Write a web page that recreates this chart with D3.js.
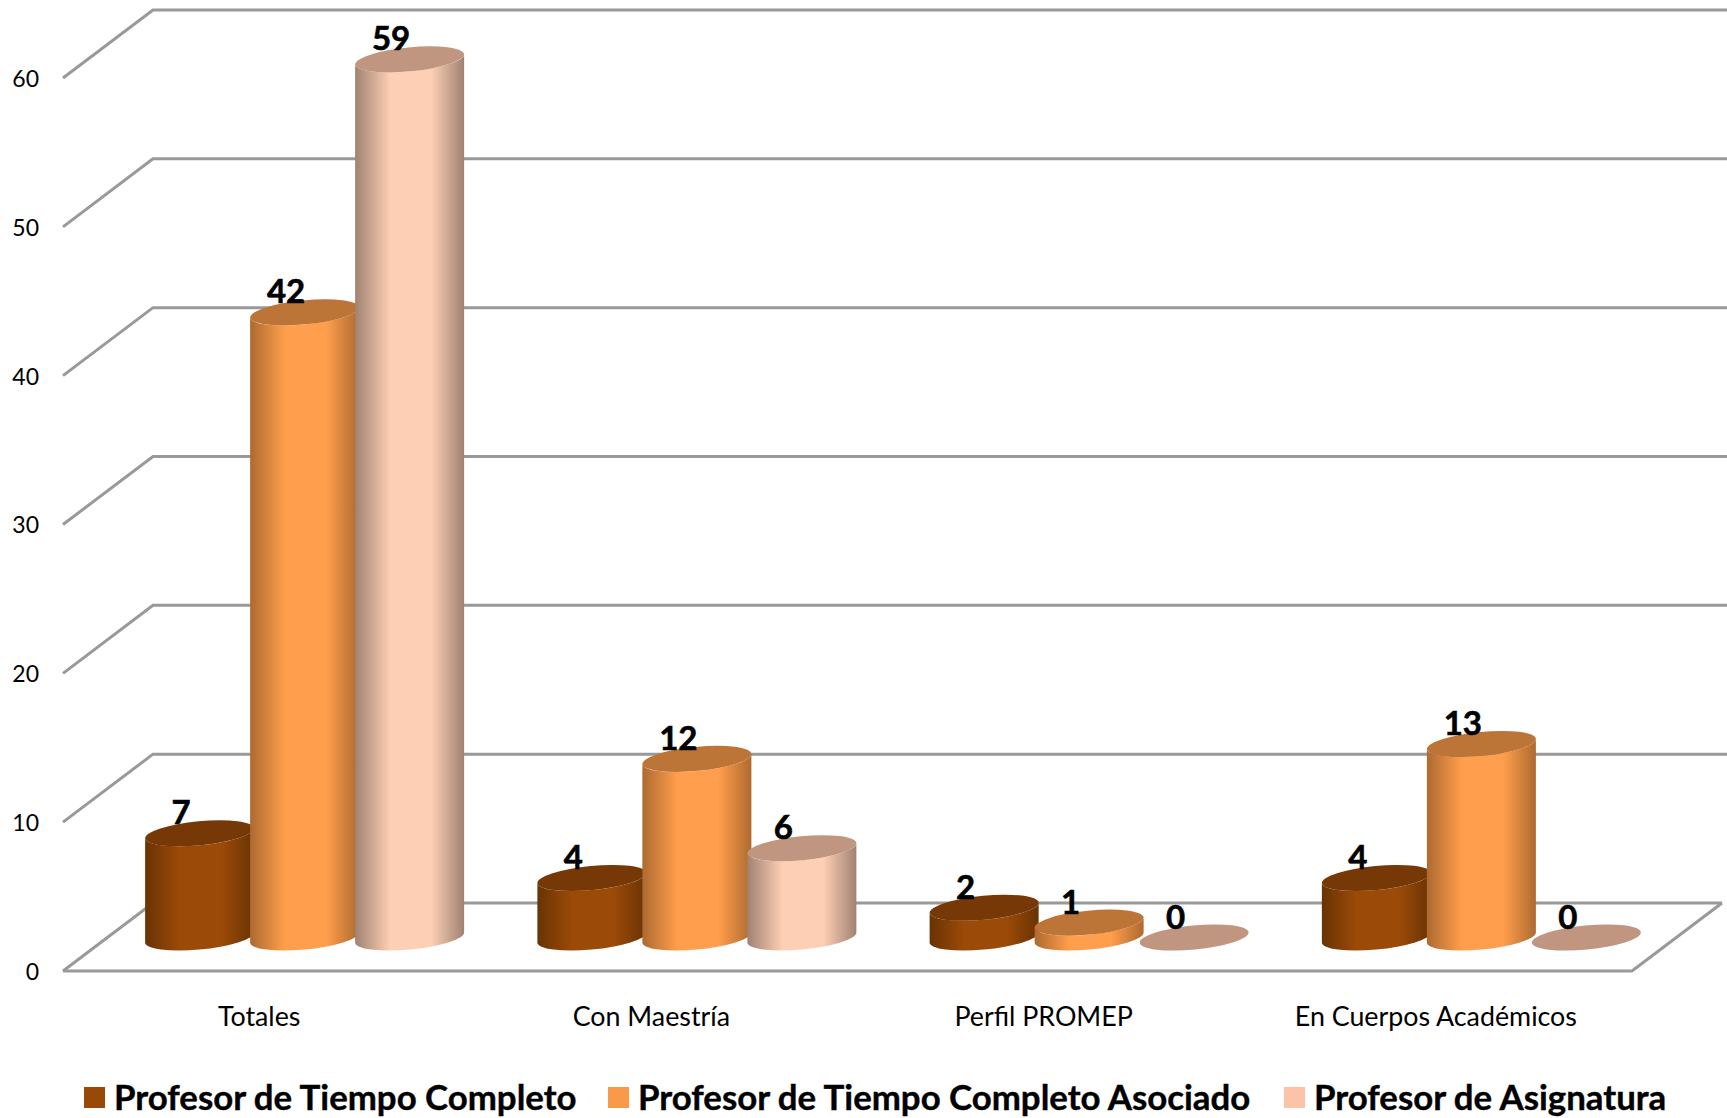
<!DOCTYPE html>
<html>
<head>
<meta charset="utf-8">
<script src="https://cdn.jsdelivr.net/npm/d3@7"></script>
<style>
  html, body { margin: 0; padding: 0; background: #fff; }
  svg { display: block; }
  text { font-family: Lato, "Open Sans", sans-serif; fill: #000; }
</style>
</head>
<body>
<div id="graph"></div>
<script>
//data
let categories = ["Totales", "Con Maestría", "Perfil PROMEP", "En Cuerpos Académicos"];
let seriesNames = ["Profesor de Tiempo Completo", "Profesor de Tiempo Completo Asociado", "Profesor de Asignatura"];
let tiempoCompleto = [7, 4, 2, 4];
let asociado = [42, 12, 1, 13];
let asignatura = [59, 6, 0, 0];
let yTicks = [0, 10, 20, 30, 40, 50, 60];

let allSeries = [tiempoCompleto, asociado, asignatura];

let sideColors = [
  {edge: "#693303", mid: "#9c4a08", top: "#763807"},
  {edge: "#ad6a30", mid: "#ff9e4c", top: "#bd7437"},
  {edge: "#a08272", mid: "#fdcfb4", top: "#c19680"}
];
let legendColors = ["#984807", "#f99a4a", "#fbc3a8"];

let w = 1727;
let h = 1118;

//the floor and the back wall, the wall sits up and to the right of the front plane
let depthX = 90;
let depthY = 68;

let x = d3.scaleBand().domain(d3.range(categories.length)).range([63, 1632]);
let y = d3.scaleLinear().domain([0, 60]).range([971, 78]);

let barStep = 105;
let rx = 54.7;
let ry = 12;
let tilt = -5.5;
let halfW = 54.5;   //horizontal extent of the tilted ellipse
let sideDy = 5;     //y offset of the points where the side touches the ellipse

let svg = d3.select("#graph").append("svg")
  .attr("width", w)
  .attr("height", h);

//gradients for the cylinder sides
let defs = svg.append("defs");
sideColors.forEach(function(c, i){
  let grad = defs.append("linearGradient").attr("id", "side" + i);
  grad.append("stop").attr("offset", "0%").attr("stop-color", c.edge);
  grad.append("stop").attr("offset", "32%").attr("stop-color", c.mid);
  grad.append("stop").attr("offset", "70%").attr("stop-color", c.mid);
  grad.append("stop").attr("offset", "100%").attr("stop-color", c.edge);
});

//grid
let grid = svg.append("g")
  .attr("fill", "none")
  .attr("stroke", "#999999")
  .attr("stroke-width", 3);

grid.selectAll(".back").data(yTicks).enter()
  .append("path")
    .attr("d", d => "M" + x.range()[0] + "," + y(d) + "L" + (x.range()[0] + depthX) + "," + (y(d) - depthY) + "H" + (d == 0 ? x.range()[1] + depthX : w));

grid.append("path")
  .attr("d", "M" + x.range()[0] + "," + y(0) + "H" + x.range()[1] + "L" + (x.range()[1] + depthX) + "," + (y(0) - depthY));

//axes
let yAxis = d3.axisLeft(y).tickValues(yTicks).tickSize(0).tickPadding(0);
svg.append("g")
  .attr("transform", "translate(39,1)")
  .call(yAxis)
  .call(g => g.select(".domain").remove())
  .selectAll("text")
    .attr("font-size", 23)
    .style("font-family", "Lato, sans-serif");

let xAxis = d3.axisBottom(x).tickFormat(i => categories[i]).tickSize(0).tickPadding(0);
svg.append("g")
  .attr("transform", "translate(0,1007)")
  .call(xAxis)
  .call(g => g.select(".domain").remove())
  .selectAll("text")
    .attr("font-size", 26.8)
    .style("font-family", "Lato, sans-serif");

//base of a bar is halfway through the depth of the floor
function barX(g, s){
  return x(g) + x.bandwidth() / 2 + depthX / 2 + 0.5 + (s - 1) * barStep;
}
function barBase(){
  return y(0) - depthY / 2 + 0.5;
}
function barTop(v){
  return y(v) - depthY / 2 + 0.5;
}

function sidePath(cx, topY, baseY){
  let a = "A" + rx + "," + ry + " " + tilt + " 0 0 ";
  return "M" + (cx - halfW) + "," + (topY + sideDy) +
    "L" + (cx - halfW) + "," + (baseY + sideDy) +
    a + (cx + halfW) + "," + (baseY - sideDy) +
    "L" + (cx + halfW) + "," + (topY - sideDy) +
    a.replace("0 0 ", "0 1 ") + (cx - halfW) + "," + (topY + sideDy) + "Z";
}

//bars, left to right so the next one covers the one before
categories.forEach(function(cat, g){
  allSeries.forEach(function(values, s){
    let v = values[g];
    let cx = barX(g, s);
    let bar = svg.append("g").attr("class", "bar");
    if(v > 0){
      bar.append("path")
        .attr("d", sidePath(cx, barTop(v), barBase()))
        .attr("fill", "url(#side" + s + ")");
    }
    bar.append("ellipse")
      .attr("rx", rx)
      .attr("ry", ry)
      .attr("transform", "translate(" + cx + "," + barTop(v) + ") rotate(" + tilt + ")")
      .attr("fill", sideColors[s].top);
  });
});

//value labels
categories.forEach(function(cat, g){
  allSeries.forEach(function(values, s){
    svg.append("text")
      .attr("x", barX(g, s) - 18.5)
      .attr("y", barTop(values[g]) - 9)
      .attr("text-anchor", "middle")
      .attr("font-size", 33)
      .attr("font-weight", 700)
      .attr("stroke", "#000")
      .attr("stroke-width", 0.6)
      .text(values[g]);
  });
});

//legend
let legendX = [84, 608, 1284];
let legend = svg.selectAll(".legend").data(seriesNames).enter()
  .append("g")
    .attr("class", "legend")
    .attr("transform", (d, i) => "translate(" + legendX[i] + ",1087)");

legend.append("rect")
  .attr("width", 21)
  .attr("height", 21)
  .attr("fill", (d, i) => legendColors[i]);

legend.append("text")
  .attr("x", 30)
  .attr("y", 23)
  .attr("font-size", 34.8)
  .attr("font-weight", 700)
  .attr("stroke", "#000")
  .attr("stroke-width", 0.4)
  .text(d => d);
</script>
</body>
</html>
